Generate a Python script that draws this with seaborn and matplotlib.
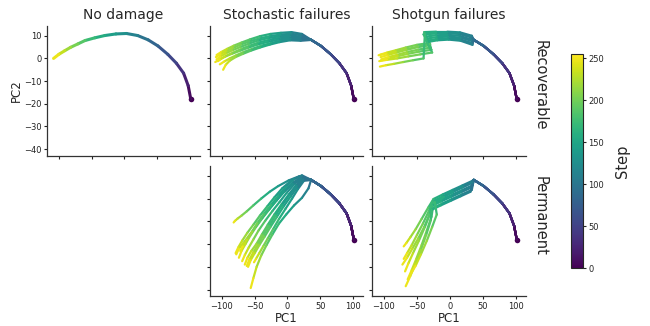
import numpy as np
import matplotlib
matplotlib.use("Agg")
import matplotlib.pyplot as plt
from matplotlib.collections import LineCollection
from matplotlib.colors import Normalize
import pandas as pd
import seaborn as sns

# ---- data ----
STEPS = [0, 15, 30, 45, 60, 75, 90, 105, 120, 135, 150, 165, 180, 195, 210, 225, 240, 255]

# undamaged trajectory (PC1, PC2 at each step)
BASE_PC1 = [101, 97, 90, 79, 66, 51, 36, 20, 3, -13, -30, -45, -60, -71, -82, -91, -100, -108]
BASE_PC2 = [-18, -12, -6.5, -2.1, 1.8, 5.5, 8.2, 10.1, 11, 10.8, 10.1, 9.1, 7.9, 6.4, 4.9, 3.4, 1.8, 0]

N_SHARED = 7  # damaged runs follow the undamaged path up to step 90

# tails (steps 105..255) of the damaged runs
STOCH_REC_PC1 = [
    [22, 6, -10, -26, -42, -57, -70, -82, -92, -101, -108],
    [21, 5, -11, -27, -43, -58, -71, -83, -93, -102, -109],
    [20, 3, -13, -29, -45, -59, -72, -84, -94, -102, -108],
    [20, 4, -12, -28, -44, -58, -70, -81, -91, -99, -106],
    [19, 2, -14, -30, -46, -60, -73, -85, -95, -103, -110],
    [21, 5, -10, -25, -40, -54, -67, -78, -88, -96, -103],
    [20, 4, -12, -27, -42, -56, -68, -79, -88, -94, -98],
]
STOCH_REC_PC2 = [
    [10.8, 11.6, 11.3, 10.8, 9.8, 8.4, 7.0, 5.6, 4.2, 2.8, 1.5],
    [10.2, 10.9, 10.5, 9.8, 8.8, 7.5, 6.1, 4.6, 3.2, 1.9, 0.6],
    [9.6, 10.2, 9.7, 9.0, 7.9, 6.5, 5.0, 3.6, 2.2, 0.9, -0.4],
    [9.0, 9.6, 9.1, 8.2, 7.0, 5.6, 4.2, 2.8, 1.5, 0.2, -1.2],
    [8.6, 9.0, 8.3, 7.3, 6.1, 4.7, 3.3, 2.0, 0.8, -0.4, -1.6],
    [8.2, 8.5, 7.8, 6.8, 5.6, 4.2, 2.8, 1.4, 0.0, -1.3, -2.6],
    [7.8, 8.0, 7.2, 6.1, 4.8, 3.4, 2.0, 0.6, -1.0, -2.8, -5.0],
]

SHOT_REC_PC1 = [
    [33, 15, -4, -21, -39, -31, -50, -67, -82, -95, -106],
    [33, 14, -5, -22, -40, -30, -49, -66, -81, -94, -105],
    [32, 14, -4, -21, -38, -29, -48, -65, -80, -93, -104],
    [34, 16, -3, -20, -37, -28, -47, -64, -79, -92, -103],
    [33, 15, -3, -20, -36, -30, -48, -66, -82, -96, -108],
    [34, 16, -2, -19, -35, -27, -45, -63, -80, -95, -107],
    [32, 14, -4, -21, -38, -40, -56, -71, -85, -97, -106],
]
SHOT_REC_PC2 = [
    [10.0, 11.5, 11.8, 11.8, 11.6, 6.8, 6.0, 4.8, 3.6, 2.6, 1.6],
    [9.2, 10.8, 11.2, 11.0, 10.6, 5.8, 5.0, 3.8, 2.6, 1.5, 0.6],
    [8.4, 10.0, 10.4, 10.2, 9.6, 4.8, 3.9, 2.8, 1.6, 0.6, -0.4],
    [7.6, 9.2, 9.6, 9.4, 8.7, 3.8, 3.0, 2.0, 1.0, 0.1, -0.8],
    [6.8, 8.5, 8.9, 8.6, 7.8, 6.3, 5.2, 4.0, 3.0, 2.2, 1.4],
    [6.0, 7.8, 8.3, 8.0, 7.2, 2.6, 1.8, 0.9, 0.0, -0.6, -1.2],
    [9.6, 11.0, 11.4, 11.2, 10.8, 0.0, -0.8, -1.6, -2.4, -3.0, -3.6],
]

STOCH_PERM_PC1 = [
    [18, 2, -14, -27, -40, -52, -62, -70, -76, -80, -82],
    [20, 6, -8, -20, -31, -42, -52, -61, -69, -75, -79],
    [22, 9, -4, -16, -27, -38, -48, -57, -64, -70, -74],
    [23, 11, -1, -12, -23, -34, -44, -52, -59, -65, -69],
    [24, 13, 2, -9, -20, -30, -39, -47, -55, -61, -65],
    [25, 15, 5, -6, -16, -26, -35, -43, -50, -56, -60],
    [25, 16, 7, -3, -13, -22, -30, -37, -43, -48, -51],
    [21, 8, -5, -17, -29, -40, -50, -59, -67, -74, -78],
    [32, 22, 10, -2, -13, -23, -32, -40, -47, -52, -56],
    [22, 10, -2, -14, -25, -36, -46, -54, -62, -68, -72],
    [24, 14, 3, -8, -18, -28, -37, -45, -52, -58, -62],
]
STOCH_PERM_PC2 = [
    [9.8, 8.0, 5.5, 3.0, 0.0, -3.0, -5.6, -7.5, -8.8, -9.8, -10.5],
    [9.8, 8.0, 4.5, 0.5, -3.5, -7.5, -11.5, -15.0, -18.5, -21.5, -24.0],
    [9.4, 7.2, 3.5, -0.5, -4.5, -8.5, -12.5, -16.5, -20.0, -23.0, -26.0],
    [9.0, 6.5, 2.6, -1.5, -5.5, -9.8, -14.0, -18.0, -21.5, -24.8, -27.5],
    [8.6, 5.8, 1.8, -2.5, -7.0, -11.5, -15.8, -19.8, -23.0, -26.0, -29.0],
    [8.2, 5.0, 1.0, -3.5, -8.0, -12.5, -16.8, -20.5, -24.0, -27.0, -30.0],
    [7.8, 4.2, 0.0, -4.5, -9.0, -13.5, -17.5, -21.0, -24.0, -26.5, -28.0],
    [8.8, 6.5, 3.0, -1.0, -5.0, -9.0, -13.0, -16.5, -19.5, -22.0, -24.5],
    [4.5, 0.3, -3.0, -7.0, -11.0, -15.8, -20.5, -25.0, -30.0, -35.0, -39.3],
    [10.2, 8.6, 5.2, 1.2, -2.8, -6.8, -10.8, -14.6, -18.0, -21.0, -23.0],
    [8.4, 5.6, 1.6, -2.8, -7.4, -12.0, -16.2, -20.2, -23.6, -26.8, -29.6],
]

SHOT_PERM_PC1 = [
    [34, 19, 4, -11, -25, -33, -43, -52, -60, -66, -70],
    [33, 18, 3, -12, -26, -32, -41, -50, -58, -65, -70],
    [34, 19, 4, -11, -25, -30, -38, -47, -56, -63, -68],
    [32, 17, 2, -13, -27, -31, -39, -48, -57, -65, -72],
    [33, 18, 3, -12, -26, -28, -35, -43, -51, -58, -64],
    [31, 16, 1, -14, -28, -29, -36, -44, -52, -60, -67],
    [34, 20, 5, -9, -23, -20, -27, -35, -44, -52, -60],
]
SHOT_PERM_PC2 = [
    [7.8, 5.8, 3.8, 1.8, -0.2, -4.0, -9.0, -13.5, -17.0, -19.5, -21.0],
    [6.8, 4.8, 2.8, 0.8, -1.2, -5.5, -11.0, -16.0, -20.5, -24.0, -26.5],
    [5.8, 3.8, 1.8, -0.2, -2.2, -6.5, -12.5, -18.5, -24.0, -28.5, -32.0],
    [4.8, 2.8, 0.8, -1.2, -3.2, -7.0, -12.5, -17.5, -22.0, -26.0, -29.0],
    [3.8, 1.8, -0.2, -2.2, -4.2, -8.0, -14.0, -20.5, -26.5, -31.5, -35.5],
    [3.0, 1.0, -1.0, -3.0, -5.0, -9.5, -16.0, -22.5, -28.5, -34.0, -38.5],
    [7.2, 5.2, 3.0, 0.8, -1.5, -7.0, -12.5, -18.5, -24.5, -29.5, -33.5],
]

COLS = ["No damage", "Stochastic failures", "Shotgun failures"]
ROWS = ["Recoverable", "Permanent"]

# ---- build a long table: one row per (panel, run, step) ----
rows = []
def add_run(row, col, run, pc1, pc2):
    for s, x, y in zip(STEPS, pc1, pc2):
        rows.append(dict(row=row, col=col, run=run, step=s, PC1=x, PC2=y))

add_run("Recoverable", "No damage", 0, BASE_PC1, BASE_PC2)
for row, col, P1, P2 in [
    ("Recoverable", "Stochastic failures", STOCH_REC_PC1, STOCH_REC_PC2),
    ("Recoverable", "Shotgun failures", SHOT_REC_PC1, SHOT_REC_PC2),
    ("Permanent", "Stochastic failures", STOCH_PERM_PC1, STOCH_PERM_PC2),
    ("Permanent", "Shotgun failures", SHOT_PERM_PC1, SHOT_PERM_PC2),
]:
    for i, (t1, t2) in enumerate(zip(P1, P2)):
        add_run(row, col, i, BASE_PC1[:N_SHARED] + t1, BASE_PC2[:N_SHARED] + t2)
df = pd.DataFrame(rows)

# ---- figure ----
sns.set_theme(style="ticks")
plt.rcParams["font.family"] = ["DejaVu Sans"]
norm = Normalize(0, 255)

W, H = 650, 326
fig = plt.figure(figsize=(W / 100, H / 100), dpi=100)

def box(x0, y0, x1, y1):
    return [x0 / W, 1 - y1 / H, (x1 - x0) / W, (y1 - y0) / H]

col_x = [(47, 200), (210, 363), (372, 526)]
row_y = [(26, 155.5), (166, 296)]

def draw_run(ax, d, lw):
    pts = d[["PC1", "PC2"]].to_numpy(float)
    st = d["step"].to_numpy(float)
    segs = np.stack([pts[:-1], pts[1:]], axis=1)
    lc = LineCollection(segs, cmap="viridis", norm=norm, linewidths=lw,
                        capstyle="round", joinstyle="round")
    lc.set_array((st[:-1] + st[1:]) / 2)
    ax.add_collection(lc)

for r, rname in enumerate(ROWS):
    for c, cname in enumerate(COLS):
        if r == 1 and c == 0:
            continue
        ax = fig.add_axes(box(col_x[c][0], row_y[r][0], col_x[c][1], row_y[r][1]))
        sub = df[(df.row == rname) & (df.col == cname)]
        lw = 2.2 if c == 0 else 1.6
        for _, d in sub.groupby("run"):
            draw_run(ax, d.sort_values("step"), lw)
        start = sub[sub.step == 0].iloc[[0]]
        sns.scatterplot(data=start, x="PC1", y="PC2", hue="step", palette="viridis",
                        hue_norm=(0, 255), marker="o", s=16, linewidth=0,
                        legend=False, ax=ax)
        ax.set_xlim(-118, 115)
        ax.set_ylim(-42.8, 14.3)
        ax.set_xticks([-100, -50, 0, 50, 100])
        ax.set_yticks([-40, -30, -20, -10, 0, 10])
        ax.tick_params(labelsize=6, length=2.5, width=0.8, colors="#222222", pad=1.5)
        for sp in ax.spines.values():
            sp.set_linewidth(0.9)
            sp.set_color("#333333")
        sns.despine(ax=ax)
        ax.set_xlabel("")
        ax.set_ylabel("")
        if r == 0:
            ax.set_title(cname, fontsize=10, pad=5)
        if r == 0 or c == 0:
            ax.tick_params(labelbottom=False)
        if c != 0:
            ax.tick_params(labelleft=False)
        if r == 0 and c == 0:
            ax.set_ylabel("PC2", fontsize=8.5, labelpad=1)
        if r == 1:
            ax.set_xlabel("PC1", fontsize=8.5, labelpad=1)

fig.text(540 / W, 1 - 85 / H, "Recoverable", rotation=270, ha="center", va="center", fontsize=10.5)
fig.text(540 / W, 1 - 216 / H, "Permanent", rotation=270, ha="center", va="center", fontsize=10.5)

cax = fig.add_axes(box(571, 54, 583, 268))
sm = plt.cm.ScalarMappable(norm=norm, cmap="viridis")
cb = fig.colorbar(sm, cax=cax)
cb.set_ticks([0, 50, 100, 150, 200, 250])
cb.ax.tick_params(labelsize=6, length=2.5, width=0.8, pad=1.5)
cb.outline.set_linewidth(0.8)
cb.set_label("Step", fontsize=10.5, labelpad=8)

fig.savefig("out.png", dpi=100)
